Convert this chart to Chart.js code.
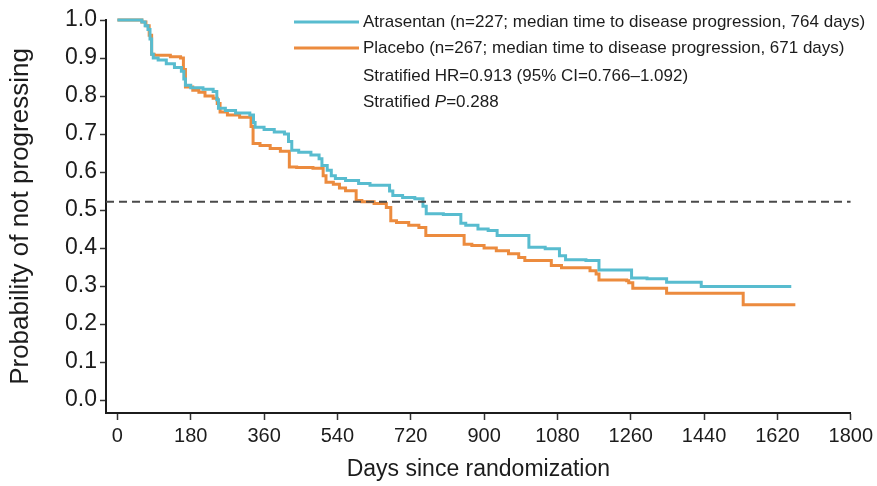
<!DOCTYPE html>
<html>
<head>
<meta charset="utf-8">
<script src="https://cdn.jsdelivr.net/npm/chart.js@4.4.1/dist/chart.umd.min.js"></script>
<style>
  body { margin: 0; background: #fff; }
  #wrap { width: 877px; height: 486px; position: relative; }
</style>
</head>
<body>
<div id="wrap"><canvas id="km"></canvas></div>
<script>
// Kaplan-Meier steps (day of drop, probability after it)
const atrasentanDays = [0, 60, 68, 75, 80, 84, 88, 100, 120, 140, 157, 163, 167, 180, 210, 235, 244, 248, 265, 290, 325, 334, 338, 360, 385, 410, 420, 428, 445, 475, 495, 502, 515, 525, 535, 560, 592, 620, 668, 676, 700, 730, 750, 758, 800, 843, 855, 885, 910, 932, 1010, 1050, 1085, 1100, 1150, 1182, 1262, 1300, 1348, 1433, 1654];
const atrasentanProb = [1.0, 0.995, 0.985, 0.975, 0.95, 0.91, 0.90, 0.895, 0.885, 0.875, 0.865, 0.845, 0.828, 0.822, 0.818, 0.812, 0.79, 0.768, 0.762, 0.755, 0.75, 0.73, 0.718, 0.712, 0.705, 0.70, 0.68, 0.657, 0.652, 0.645, 0.635, 0.617, 0.605, 0.59, 0.583, 0.578, 0.57, 0.565, 0.55, 0.538, 0.533, 0.53, 0.51, 0.49, 0.488, 0.465, 0.46, 0.45, 0.446, 0.433, 0.402, 0.398, 0.38, 0.369, 0.367, 0.342, 0.321, 0.319, 0.31, 0.299, 0.299];

const placeboDays = [0, 60, 70, 78, 84, 90, 130, 155, 162, 167, 185, 200, 215, 235, 245, 252, 270, 300, 328, 333, 350, 375, 400, 422, 440, 480, 505, 512, 530, 545, 560, 586, 600, 630, 660, 671, 685, 715, 740, 757, 851, 870, 900, 930, 960, 985, 1000, 1065, 1090, 1160, 1175, 1182, 1250, 1255, 1265, 1348, 1536, 1664];
const placeboProb = [1.0, 0.995, 0.985, 0.96, 0.91, 0.907, 0.903, 0.90, 0.87, 0.824, 0.815, 0.81, 0.80, 0.794, 0.78, 0.758, 0.75, 0.744, 0.72, 0.675, 0.67, 0.662, 0.655, 0.613, 0.612, 0.61, 0.59, 0.573, 0.568, 0.558, 0.551, 0.525, 0.522, 0.517, 0.507, 0.472, 0.467, 0.46, 0.454, 0.433, 0.41, 0.407, 0.40, 0.393, 0.385, 0.375, 0.367, 0.354, 0.348, 0.34, 0.332, 0.316, 0.314, 0.309, 0.294, 0.281, 0.251, 0.251];

const xTickValues = [0, 180, 360, 540, 720, 900, 1080, 1260, 1440, 1620, 1800];
const yTickValues = [0, 0.1, 0.2, 0.3, 0.4, 0.5, 0.6, 0.7, 0.8, 0.9, 1.0];
const medianLevel = 0.522;

const xMin = -28, xMax = 1800;
const yMin = -0.034, yMax = 1.0;

const legendLines = [
  "Atrasentan (n=227; median time to disease progression, 764 days)",
  "Placebo (n=267; median time to disease progression, 671 days)",
  "Stratified HR=0.913 (95% CI=0.766\u20131.092)"
];

const BLUE = "#58bccf";
const ORANGE = "#ec8b3e";
const INK = "#1c1c1c";
const FONT = '"Liberation Sans", Arial, Helvetica, sans-serif';
const NOTE_SIZE = 17;

const toPoints = (xs, ys) => xs.map((x, i) => ({ x, y: ys[i] }));

const notesPlugin = {
  id: "kmNotes",
  afterDraw(chart) {
    const ctx = chart.ctx;
    ctx.save();
    ctx.font = NOTE_SIZE + "px " + FONT;
    ctx.fillStyle = INK;
    ctx.textBaseline = "middle";

    // swatches
    ctx.lineWidth = 3;
    ctx.strokeStyle = BLUE;
    ctx.beginPath(); ctx.moveTo(294, 22); ctx.lineTo(359, 22); ctx.stroke();
    ctx.strokeStyle = ORANGE;
    ctx.beginPath(); ctx.moveTo(294, 48); ctx.lineTo(359, 48); ctx.stroke();

    const tx = 363;
    ctx.fillText(legendLines[0], tx, 22);
    ctx.fillText(legendLines[1], tx, 48);
    ctx.fillText(legendLines[2], tx, 76);

    // "Stratified P=0.288" with italic P
    let x = tx;
    ctx.fillText("Stratified ", x, 102);
    x += ctx.measureText("Stratified ").width;
    ctx.font = "italic " + NOTE_SIZE + "px " + FONT;
    ctx.fillText("P", x, 102);
    x += ctx.measureText("P").width;
    ctx.font = NOTE_SIZE + "px " + FONT;
    ctx.fillText("=0.288", x, 102);
    ctx.restore();
  }
};

new Chart(document.getElementById("km"), {
  type: "line",
  data: {
    datasets: [
      {
        label: "median",
        data: [{ x: xMin, y: medianLevel }, { x: xMax, y: medianLevel }],
        borderColor: "#4a4a4a",
        borderWidth: 2,
        borderDash: [8, 5],
        pointRadius: 0
      },
      {
        label: "Atrasentan",
        data: toPoints(atrasentanDays, atrasentanProb),
        borderColor: BLUE,
        borderWidth: 3,
        stepped: "before",
        pointRadius: 0,
        clip: 6
      },
      {
        label: "Placebo",
        data: toPoints(placeboDays, placeboProb),
        borderColor: ORANGE,
        borderWidth: 3,
        stepped: "before",
        pointRadius: 0,
        clip: 6
      }
    ]
  },
  options: {
    responsive: true,
    maintainAspectRatio: false,
    animation: false,
    layout: { padding: { top: 20, right: 24, left: 0, bottom: 0 } },
    plugins: {
      legend: { display: false },
      tooltip: { enabled: false }
    },
    scales: {
      x: {
        type: "linear",
        min: xMin,
        max: xMax,
        afterBuildTicks: (scale) => { scale.ticks = xTickValues.map(v => ({ value: v })); },
        afterFit: (scale) => { scale.height = 73; },
        ticks: {
          color: INK,
          font: { family: FONT, size: 20 },
          padding: 4,
          maxRotation: 0,
          autoSkip: false,
          callback: (v) => String(v)
        },
        grid: {
          drawOnChartArea: false,
          drawTicks: true,
          tickLength: 7,
          tickColor: "#333",
          tickWidth: 1.5
        },
        border: { display: true, color: INK, width: 2 },
        title: {
          display: true,
          text: "Days since randomization",
          color: INK,
          font: { family: FONT, size: 23 },
          padding: { top: 0, bottom: 3 }
        }
      },
      y: {
        type: "linear",
        min: yMin,
        max: yMax,
        afterBuildTicks: (scale) => { scale.ticks = yTickValues.map(v => ({ value: v })); },
        afterFit: (scale) => { scale.width = 106; },
        ticks: {
          color: INK,
          font: { family: FONT, size: 23 },
          padding: 3,
          callback: (v) => v.toFixed(1)
        },
        grid: {
          drawOnChartArea: false,
          drawTicks: true,
          tickLength: 6,
          tickColor: "#333",
          tickWidth: 1.5
        },
        border: { display: true, color: INK, width: 2 },
        title: {
          display: true,
          text: "Probability of not progressing",
          color: INK,
          font: { family: FONT, size: 26 },
          padding: { top: 5, bottom: 0 }
        }
      }
    }
  },
  plugins: [notesPlugin]
});
</script>
</body>
</html>
